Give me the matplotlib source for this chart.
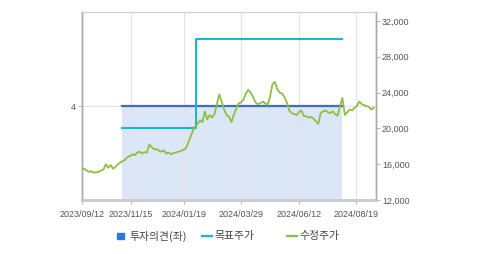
import numpy as np
import pandas as pd
import matplotlib
matplotlib.use("Agg")
import matplotlib.pyplot as plt
from matplotlib.patches import Rectangle
from matplotlib.lines import Line2D

plt.rcParams['font.family'] = ['Liberation Sans', 'DejaVu Sans']

# KRX trading calendar for the window
holidays = ["2023-09-28", "2023-09-29", "2023-10-02", "2023-10-03", "2023-10-09",
            "2023-12-25", "2023-12-29", "2024-01-01", "2024-02-09", "2024-02-12",
            "2024-03-01", "2024-04-10", "2024-05-01", "2024-05-06", "2024-05-15",
            "2024-06-06", "2024-08-15"]
days = pd.bdate_range("2023-09-12", "2024-09-11")
days = days[~days.isin(pd.to_datetime(holidays))]

tick_labels = ["2023/09/12", "2023/11/15", "2024/01/19", "2024/03/29", "2024/06/12", "2024/08/19"]

# adjusted close, every second trading day (won)
prices = [15450, 15500, 15300, 15150, 15200, 15050, 15100, 15150, 15300, 15400,
          16000, 15600, 15900, 15500, 15700, 16000, 16200, 16350, 16500, 16800,
          16900, 17100, 17000, 17300, 17400, 17200, 17350, 17300, 18200, 17900,
          17650, 17700, 17500, 17400, 17550, 17200, 17300, 17100, 17250, 17300,
          17400, 17450, 17600, 17700, 18300, 19000, 19700, 20200, 20500, 20900,
          20700, 21900, 21000, 21500, 21200, 21600, 22700, 23800, 23000, 22100,
          21500, 21300, 20700, 21500, 22200, 22800, 22900, 23200, 23900, 24300,
          24000, 23500, 22900, 22700, 22800, 23000, 22800, 22600, 23500, 24900,
          25200, 24400, 24000, 23900, 23500, 22900, 22000, 21700, 21600, 21500,
          21800, 22000, 21400, 21350, 21200, 21300, 21100, 20800, 20500, 21700,
          21900, 22000, 21800, 21700, 21900, 21600, 21400, 22500, 23400, 21500,
          21800, 22100, 22000, 22300, 22500, 23000, 22700, 22600, 22500, 22400,
          22100, 22300]
price_dates = days[::2][:len(prices)]

# investment opinion (left axis) and target price (right axis)
opinion_dates = ["2023-11-03", "2024-08-01"]
opinion_values = [4, 4]
target_dates = ["2023-11-03", "2024-02-02", "2024-08-01"]
target_values = [20000, 30000, 30000]

pos = lambda ds: days.get_indexer(pd.to_datetime(ds))

fig = plt.figure(figsize=(4.79, 2.54), dpi=100)
ax = fig.add_axes([81.7 / 479, 1 - 200 / 254, 294 / 479, 188 / 254])
ax2 = ax.twinx()

ox = pos(opinion_dates)
ax.fill_between(ox, 0, opinion_values, color="#dbe7f6", lw=0, zorder=1)
ax.plot(ox, opinion_values, color="#3b6fc6", lw=1.6, zorder=4)
ax.set_ylim(0, 8)
ax.set_yticks([4])
ax.set_yticklabels(["4"])
ax.set_xlim(0, 243.6)
ax.set_xticks(pos(tick_labels))
ax.set_xticklabels(tick_labels)
ax.set_axisbelow(False)
ax.grid(True, color="#e2e2e2", lw=0.8, zorder=3)

ax2.plot(pos(target_dates), target_values, drawstyle="steps-post", color="#1bb6cf", lw=1.5, zorder=3)
ax2.plot(pos(price_dates), prices, color="#8dbf43", lw=1.3, zorder=4)
ax2.set_ylim(12000, 33000)
ax2.set_yticks(range(12000, 32001, 4000))
ax2.set_yticklabels([f"{v:,}" for v in range(12000, 32001, 4000)])

for a in (ax, ax2):
    a.tick_params(labelsize=6.5, colors="#555555", length=3, width=0.6, pad=1.5)
    a.tick_params(axis="y", color="#aaaaaa")
    a.tick_params(axis="x", color="#aaaaaa", pad=4)
    for s in ("left", "right"):
        a.spines[s].set_color("#aaaaaa")
        a.spines[s].set_linewidth(1.0)
    a.spines["top"].set_color("#d0d0d0")
    a.spines["top"].set_linewidth(0.8)
    a.spines["bottom"].set_color("#cccccc")
    a.spines["bottom"].set_linewidth(2.0)

# legend, laid out like the source
kfont = dict(family=['Noto Sans CJK KR', 'DejaVu Sans'], size=7.8, color="#444444", va="center")
ly = 1 - 236 / 254
fig.patches.append(Rectangle((117 / 479, ly - 3.2 / 254), 6.5 / 479, 6.5 / 254,
                             transform=fig.transFigure, color="#2b78d8"))
fig.text(129 / 479, ly, "투자의견(좌)", **kfont)
fig.lines.append(Line2D([202 / 479, 212 / 479], [ly, ly], transform=fig.transFigure,
                        color="#1bb6cf", lw=1.6))
fig.text(214 / 479, ly, "목표주가", **kfont)
fig.lines.append(Line2D([287 / 479, 297 / 479], [ly, ly], transform=fig.transFigure,
                        color="#8dbf43", lw=1.6))
fig.text(299 / 479, ly, "수정주가", **kfont)

fig.savefig("out.png", dpi=100)
